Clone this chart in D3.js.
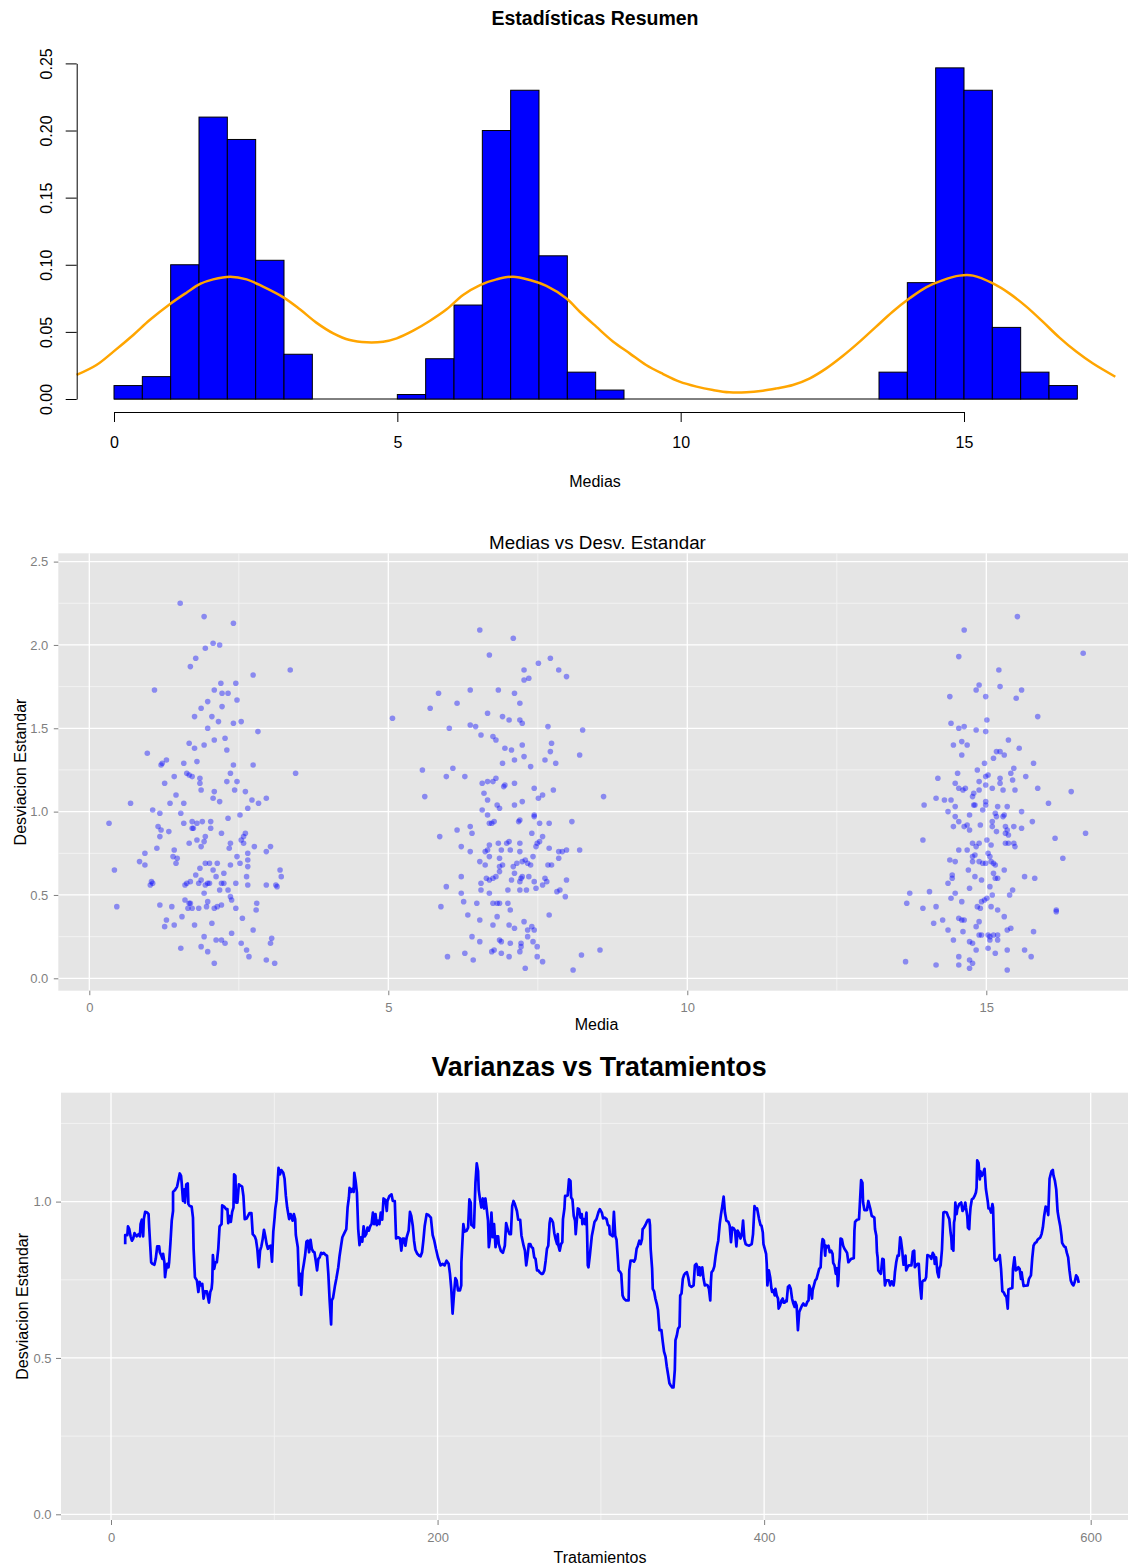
<!DOCTYPE html>
<html>
<head>
<meta charset="utf-8">
<script src="https://cdn.jsdelivr.net/npm/d3@7"></script>
<style>
  body { margin: 0; background: #ffffff; }
  svg { display: block; }
  text { font-family: "Liberation Sans", Arial, Helvetica, sans-serif; }
</style>
</head>
<body>
<svg id="fig" width="1128" height="1567"></svg>
<script>
// ---------- Histogram of the means (counts per 0.5-wide bin) ----------
const histBreaks = [0,0.5,1,1.5,2,2.5,3,3.5,4,4.5,5,5.5,6,6.5,7,7.5,8,8.5,9,9.5,10,10.5,11,11.5,12,12.5,13,13.5,14,14.5,15,15.5,16,16.5,17];
const histCounts = [3,5,30,63,58,31,10,0,0,0,1,9,21,60,69,32,6,2,0,0,0,0,0,0,0,0,0,6,26,74,69,16,6,3];
const histYTicks = [0,0.05,0.10,0.15,0.20,0.25];
const histXTicks = [0,5,10,15];

// Smoothed density drawn over the histogram
const densityCurve = [[-0.66,0.0179],[-0.31,0.0253],[-0.01,0.0353],[0.34,0.0477],[0.63,0.0588],[0.99,0.0708],[1.28,0.0792],[1.52,0.0857],[1.75,0.0891],[2.05,0.0911],[2.34,0.0891],[2.63,0.0837],[2.99,0.0757],[3.28,0.0668],[3.57,0.0569],[3.87,0.0489],[4.16,0.0439],[4.46,0.0422],[4.75,0.0427],[4.99,0.0452],[5.28,0.0509],[5.57,0.0581],[5.87,0.0668],[6.16,0.0775],[6.46,0.0849],[6.75,0.0891],[7.04,0.0911],[7.34,0.0886],[7.63,0.0842],[7.98,0.0750],[8.22,0.0650],[8.51,0.0539],[8.81,0.0427],[9.10,0.0340],[9.39,0.0253],[9.69,0.0186],[9.98,0.0129],[10.28,0.0092],[10.57,0.0067],[10.86,0.0050],[11.16,0.0050],[11.45,0.0062],[11.69,0.0079],[11.98,0.0104],[12.28,0.0154],[12.57,0.0228],[12.86,0.0320],[13.16,0.0427],[13.45,0.0539],[13.74,0.0650],[14.04,0.0750],[14.33,0.0832],[14.63,0.0886],[14.92,0.0919],[15.16,0.0919],[15.51,0.0861],[15.80,0.0787],[16.10,0.0688],[16.39,0.0576],[16.68,0.0459],[16.98,0.0353],[17.27,0.0266],[17.67,0.0166]];

// ---------- Mean vs standard deviation, one group per treatment level ----------
const grupo1 = [[1.52,2.25],[1.92,2.17],[2.41,2.13],[2.07,2.01],[2.18,2.00],[1.94,1.98],[1.78,1.92],[1.69,1.87],[3.36,1.85],[2.74,1.82],[1.09,1.73],[2.45,1.77],[2.20,1.77],[2.09,1.73],[2.22,1.71],[2.32,1.71],[2.47,1.67],[1.98,1.66],[1.87,1.62],[2.22,1.63],[1.76,1.57],[2.05,1.57],[2.16,1.54],[2.54,1.54],[2.41,1.53],[1.98,1.50],[2.82,1.48],[2.09,1.43],[2.27,1.44],[1.67,1.41],[1.92,1.40],[1.76,1.38],[2.30,1.37],[0.97,1.35],[1.58,1.29],[1.80,1.30],[1.29,1.31],[1.22,1.29],[1.20,1.28],[2.41,1.28],[2.74,1.28],[3.45,1.23],[1.63,1.23],[1.67,1.22],[1.72,1.21],[2.36,1.23],[1.85,1.20],[1.42,1.21],[1.85,1.17],[2.30,1.18],[2.47,1.18],[1.26,1.17],[2.43,1.13],[1.87,1.13],[2.09,1.12],[2.61,1.12],[1.45,1.10],[2.07,1.08],[2.18,1.06],[2.72,1.07],[2.96,1.08],[0.69,1.05],[1.35,1.05],[1.58,1.05],[2.83,1.05],[2.65,1.02],[1.06,1.01],[1.18,0.99],[1.53,0.99],[2.52,0.98],[2.32,0.96],[0.33,0.93],[1.58,0.93],[1.72,0.94],[1.80,0.93],[1.89,0.94],[2.03,0.94],[1.15,0.91],[1.74,0.90],[1.72,0.90],[2.03,0.90],[1.20,0.89],[1.33,0.88],[2.21,0.87],[2.61,0.87],[1.94,0.85],[1.92,0.82],[1.67,0.81],[1.80,0.83],[2.58,0.85],[1.18,0.85],[2.54,0.83],[2.58,0.81],[2.36,0.81],[1.87,0.79],[1.13,0.78],[2.34,0.78],[2.76,0.79],[3.03,0.79],[1.42,0.77],[2.96,0.76],[0.93,0.75],[2.65,0.75],[0.84,0.70],[1.40,0.73],[1.47,0.72],[2.47,0.73],[2.52,0.69],[2.65,0.71],[0.93,0.68],[1.45,0.69],[2.14,0.69],[2.01,0.69],[1.94,0.69],[1.85,0.66],[2.36,0.68],[2.65,0.67],[2.07,0.65],[1.78,0.62],[2.25,0.63],[3.19,0.65],[3.21,0.61],[2.63,0.61],[2.12,0.61],[1.04,0.58],[1.06,0.57],[1.02,0.56],[1.69,0.58],[1.60,0.56],[1.63,0.57],[1.83,0.57],[1.87,0.59],[1.94,0.56],[2.01,0.57],[1.98,0.57],[2.21,0.57],[2.25,0.57],[2.45,0.57],[2.65,0.56],[2.96,0.56],[3.12,0.56],[3.14,0.55],[1.92,0.51],[2.18,0.53],[2.32,0.53],[2.36,0.49],[2.38,0.47],[1.60,0.47],[1.69,0.45],[1.67,0.45],[1.98,0.46],[2.80,0.45],[1.18,0.44],[1.38,0.43],[1.65,0.42],[1.72,0.42],[1.83,0.42],[1.96,0.43],[2.09,0.42],[2.14,0.43],[2.21,0.44],[2.45,0.42],[2.79,0.41],[0.46,0.43],[1.55,0.37],[1.29,0.35],[2.56,0.36],[1.42,0.32],[1.26,0.31],[1.76,0.32],[2.05,0.33],[2.74,0.29],[2.38,0.27],[1.92,0.25],[3.05,0.24],[3.03,0.21],[2.54,0.21],[2.27,0.21],[2.12,0.23],[2.21,0.23],[1.53,0.18],[1.87,0.19],[1.98,0.16],[2.63,0.17],[2.67,0.13],[2.96,0.11],[2.09,0.09],[3.10,0.09],[0.42,0.65]];
const grupo2 = [[6.53,2.09],[7.09,2.04],[6.69,1.94],[7.51,1.89],[7.71,1.92],[7.27,1.85],[7.85,1.85],[7.98,1.81],[7.27,1.79],[7.35,1.80],[5.84,1.71],[6.37,1.73],[6.84,1.73],[7.11,1.71],[6.15,1.65],[7.20,1.65],[5.70,1.62],[6.66,1.59],[6.91,1.57],[7.02,1.55],[7.20,1.55],[7.24,1.53],[5.07,1.56],[7.67,1.51],[6.02,1.50],[6.37,1.52],[6.46,1.51],[8.25,1.49],[6.55,1.46],[6.75,1.45],[6.80,1.43],[6.95,1.38],[7.06,1.37],[7.24,1.40],[7.73,1.41],[7.71,1.36],[7.27,1.33],[8.20,1.34],[7.11,1.31],[6.91,1.29],[7.62,1.31],[7.80,1.29],[7.38,1.27],[5.57,1.25],[6.08,1.26],[5.97,1.21],[6.28,1.21],[6.57,1.17],[6.66,1.18],[6.75,1.18],[6.80,1.20],[6.93,1.15],[6.95,1.16],[7.11,1.17],[7.44,1.14],[7.76,1.13],[5.61,1.09],[6.60,1.11],[7.58,1.10],[7.51,1.08],[6.66,1.07],[7.24,1.06],[8.60,1.09],[6.82,1.04],[6.86,1.02],[7.11,1.04],[6.57,1.01],[6.66,0.98],[7.44,0.98],[7.44,0.97],[7.18,0.94],[7.20,0.95],[6.77,0.94],[6.73,0.93],[6.69,0.93],[7.53,0.93],[7.69,0.93],[8.07,0.94],[6.37,0.91],[6.15,0.89],[6.40,0.87],[7.40,0.87],[7.58,0.85],[5.86,0.85],[6.22,0.79],[6.37,0.76],[6.62,0.76],[6.66,0.77],[6.69,0.80],[6.84,0.81],[6.98,0.81],[7.02,0.82],[6.89,0.77],[7.04,0.77],[7.20,0.81],[7.20,0.76],[7.47,0.79],[7.49,0.81],[7.53,0.82],[7.69,0.78],[7.85,0.76],[7.91,0.76],[7.98,0.77],[8.20,0.77],[6.53,0.70],[6.62,0.68],[6.69,0.73],[6.86,0.72],[6.86,0.67],[6.91,0.68],[7.09,0.67],[7.15,0.69],[7.24,0.70],[7.29,0.71],[7.33,0.69],[7.38,0.68],[7.42,0.73],[7.67,0.68],[7.73,0.68],[7.85,0.72],[6.22,0.61],[6.55,0.57],[6.64,0.60],[6.69,0.59],[6.75,0.60],[6.80,0.61],[6.86,0.64],[7.06,0.59],[7.11,0.63],[7.22,0.60],[7.24,0.61],[7.20,0.58],[7.35,0.61],[7.44,0.58],[7.62,0.60],[7.65,0.58],[7.98,0.59],[5.97,0.55],[6.22,0.51],[6.55,0.53],[6.69,0.51],[7.00,0.53],[7.20,0.53],[7.31,0.53],[7.47,0.54],[7.58,0.56],[7.82,0.52],[7.87,0.53],[7.96,0.49],[6.26,0.46],[5.88,0.43],[6.48,0.45],[6.75,0.45],[6.82,0.45],[6.86,0.45],[7.00,0.45],[7.04,0.41],[6.33,0.38],[6.53,0.35],[6.82,0.37],[7.27,0.34],[7.69,0.38],[6.75,0.32],[7.02,0.32],[7.11,0.30],[7.33,0.29],[7.40,0.31],[7.44,0.29],[6.40,0.25],[6.53,0.22],[6.86,0.23],[6.89,0.22],[7.04,0.21],[7.33,0.25],[7.42,0.22],[7.49,0.19],[7.22,0.21],[7.22,0.19],[5.99,0.13],[6.28,0.15],[6.42,0.11],[6.73,0.16],[6.77,0.17],[6.89,0.15],[7.02,0.13],[7.20,0.16],[7.49,0.13],[7.58,0.10],[7.29,0.06],[8.09,0.05],[8.23,0.14],[8.54,0.17]];
const grupo3 = [[15.52,2.17],[14.63,2.09],[16.62,1.95],[14.54,1.93],[15.21,1.85],[14.88,1.76],[15.23,1.75],[14.83,1.73],[15.59,1.73],[14.39,1.69],[14.99,1.69],[15.50,1.68],[15.86,1.57],[15.01,1.55],[14.41,1.53],[14.54,1.50],[14.63,1.51],[14.83,1.49],[14.99,1.48],[15.37,1.43],[14.59,1.42],[14.45,1.40],[14.68,1.40],[15.55,1.38],[14.59,1.34],[15.17,1.36],[15.23,1.36],[15.30,1.34],[15.12,1.32],[14.97,1.29],[15.79,1.29],[15.46,1.26],[14.85,1.25],[14.52,1.23],[15.41,1.23],[15.03,1.22],[14.99,1.21],[15.66,1.21],[14.19,1.20],[15.23,1.20],[15.44,1.19],[14.88,1.18],[15.23,1.17],[14.48,1.17],[14.99,1.16],[14.54,1.14],[14.61,1.13],[14.65,1.14],[15.10,1.14],[15.28,1.13],[15.48,1.13],[15.86,1.14],[16.42,1.12],[14.88,1.13],[14.79,1.11],[14.77,1.09],[14.16,1.08],[14.30,1.07],[14.41,1.07],[16.04,1.05],[13.96,1.04],[14.48,1.03],[14.79,1.04],[14.81,1.04],[14.99,1.06],[14.99,1.04],[15.19,1.03],[15.35,1.03],[14.36,1.00],[14.94,1.01],[15.15,0.99],[15.17,0.97],[15.28,0.97],[15.30,0.98],[15.59,1.00],[14.72,0.98],[14.48,0.97],[14.54,0.94],[15.77,0.94],[14.45,0.91],[14.63,0.91],[14.68,0.92],[14.72,0.89],[14.90,0.92],[15.10,0.94],[15.10,0.91],[15.17,0.88],[15.32,0.91],[15.35,0.89],[15.32,0.87],[15.37,0.86],[15.46,0.91],[15.59,0.90],[16.66,0.87],[16.15,0.84],[13.94,0.83],[15.01,0.83],[14.77,0.81],[14.88,0.81],[14.83,0.79],[15.08,0.80],[15.32,0.81],[15.37,0.81],[15.46,0.81],[15.48,0.79],[14.54,0.77],[14.68,0.77],[14.77,0.73],[14.81,0.74],[15.03,0.75],[15.06,0.73],[16.28,0.72],[14.39,0.71],[14.48,0.70],[14.77,0.70],[14.88,0.70],[14.94,0.69],[14.99,0.69],[15.08,0.70],[15.12,0.69],[15.15,0.68],[14.70,0.65],[15.30,0.65],[14.43,0.62],[14.43,0.60],[14.81,0.61],[14.92,0.59],[15.12,0.63],[15.15,0.60],[15.19,0.60],[15.64,0.61],[15.81,0.60],[14.36,0.57],[14.72,0.54],[15.06,0.55],[13.72,0.51],[14.05,0.52],[14.48,0.51],[15.44,0.53],[15.39,0.50],[15.10,0.50],[13.67,0.45],[14.41,0.48],[14.59,0.46],[14.92,0.46],[14.97,0.47],[15.01,0.48],[13.94,0.42],[14.16,0.43],[14.85,0.43],[14.90,0.42],[15.08,0.43],[15.19,0.41],[15.30,0.37],[16.17,0.41],[16.17,0.40],[14.27,0.35],[14.54,0.36],[14.59,0.35],[14.63,0.35],[14.88,0.34],[14.12,0.33],[14.83,0.31],[14.36,0.29],[14.61,0.28],[15.35,0.29],[15.41,0.30],[15.79,0.28],[14.88,0.26],[14.92,0.26],[15.03,0.26],[15.06,0.25],[15.12,0.26],[15.19,0.26],[14.45,0.23],[14.72,0.22],[14.77,0.21],[15.06,0.23],[15.19,0.23],[14.83,0.17],[15.03,0.18],[15.35,0.17],[15.64,0.17],[15.15,0.15],[14.54,0.13],[15.75,0.13],[13.65,0.10],[14.16,0.08],[14.54,0.08],[14.72,0.11],[14.77,0.09],[14.72,0.06],[15.35,0.05]];
const scatterXTicks = [0,5,10,15];
const scatterYTicks = [0,0.5,1.0,1.5,2.0,2.5];

// ---------- Moving standard deviation along the treatments ----------
const desvMovil = [[8.7,0.864],[8.7,0.893],[10.0,0.893],[10.4,0.921],[11.2,0.912],[12.0,0.889],[12.8,0.875],[13.6,0.882],[14.4,0.899],[15.7,0.889],[16.9,0.896],[17.7,0.889],[18.1,0.928],[18.9,0.942],[19.3,0.912],[19.7,0.889],[20.1,0.944],[20.9,0.967],[22.2,0.965],[23.0,0.960],[23.4,0.917],[24.2,0.843],[24.6,0.806],[25.4,0.801],[26.6,0.798],[27.4,0.817],[28.3,0.857],[29.5,0.857],[29.9,0.838],[30.7,0.829],[31.5,0.817],[31.9,0.833],[32.7,0.806],[33.1,0.758],[33.5,0.776],[34.4,0.801],[35.2,0.790],[35.6,0.806],[36.4,0.868],[37.2,0.939],[38.0,0.970],[38.0,1.031],[39.2,1.037],[40.5,1.048],[41.3,1.069],[42.1,1.090],[42.9,1.082],[43.3,1.060],[44.1,1.002],[44.9,1.039],[45.3,0.997],[46.1,1.055],[47.0,1.058],[47.4,0.992],[48.2,0.986],[49.4,0.984],[50.2,0.949],[50.6,0.849],[51.4,0.758],[52.6,0.748],[53.5,0.711],[54.3,0.743],[55.1,0.732],[55.9,0.737],[56.7,0.690],[57.5,0.713],[58.7,0.713],[60.0,0.677],[60.8,0.711],[61.6,0.721],[62.0,0.743],[62.4,0.829],[63.2,0.785],[64.0,0.806],[64.8,0.806],[65.7,0.849],[66.5,0.921],[67.7,0.928],[68.1,0.988],[69.3,0.984],[70.5,0.976],[71.3,0.976],[71.8,0.931],[72.6,0.954],[73.4,0.935],[74.2,0.967],[75.0,0.981],[75.4,1.087],[76.2,1.082],[76.6,0.997],[77.4,0.997],[78.3,1.055],[79.1,1.052],[80.3,1.048],[81.1,1.018],[81.9,0.944],[83.1,0.946],[84.8,0.963],[86.0,0.963],[86.8,0.896],[88.0,0.889],[88.8,0.878],[89.6,0.849],[90.5,0.790],[91.3,0.843],[92.1,0.857],[92.9,0.880],[93.7,0.910],[94.5,0.889],[95.3,0.864],[96.1,0.849],[97.0,0.857],[97.8,0.859],[98.6,0.808],[99.4,0.904],[100.2,0.949],[100.6,0.976],[101.4,1.005],[102.6,1.108],[103.5,1.087],[104.3,1.101],[105.5,1.092],[106.3,1.073],[107.1,1.018],[107.9,0.981],[109.1,0.944],[110.0,0.960],[111.2,0.939],[112.0,0.960],[112.8,0.944],[113.2,0.893],[114.4,0.854],[115.2,0.732],[116.1,0.769],[116.5,0.702],[117.3,0.776],[118.1,0.801],[118.9,0.829],[119.7,0.872],[120.5,0.875],[121.3,0.838],[122.2,0.878],[123.0,0.849],[123.8,0.840],[124.6,0.838],[125.4,0.811],[126.2,0.780],[127.0,0.817],[127.8,0.822],[128.7,0.836],[129.5,0.833],[130.3,0.836],[131.5,0.829],[132.3,0.827],[133.1,0.769],[133.9,0.684],[134.8,0.607],[135.2,0.684],[136.0,0.692],[137.2,0.732],[138.0,0.753],[139.2,0.790],[140.0,0.827],[140.9,0.859],[141.7,0.886],[142.9,0.899],[144.1,0.912],[144.9,0.981],[145.7,1.013],[146.1,1.044],[147.0,1.031],[147.8,1.041],[148.6,1.031],[149.0,1.092],[149.8,1.066],[150.6,1.029],[151.4,0.912],[152.2,0.861],[153.1,0.886],[153.9,0.872],[154.7,0.921],[155.5,0.889],[156.3,0.896],[157.1,0.917],[157.9,0.907],[158.7,0.921],[159.6,0.928],[160.4,0.965],[161.2,0.928],[162.0,0.960],[162.8,0.925],[163.6,0.939],[164.4,0.928],[165.2,0.965],[166.1,0.942],[166.9,1.010],[168.1,1.005],[168.9,0.970],[169.3,1.002],[170.5,1.018],[171.8,1.023],[172.6,1.002],[173.8,1.002],[174.6,0.882],[175.8,0.886],[177.0,0.882],[177.8,0.843],[178.7,0.882],[179.5,0.882],[180.3,0.859],[181.1,0.886],[182.3,0.907],[183.1,0.967],[183.9,0.954],[184.8,0.923],[185.6,0.875],[186.4,0.846],[187.6,0.833],[188.8,0.827],[189.6,0.825],[190.5,0.838],[191.3,0.875],[192.1,0.921],[193.3,0.960],[194.5,0.957],[195.9,0.949],[197.0,0.893],[198.0,0.875],[199.0,0.849],[200.2,0.822],[201.8,0.796],[203.1,0.801],[204.3,0.796],[205.5,0.811],[206.8,0.801],[207.6,0.769],[208.4,0.721],[209.2,0.642],[210.0,0.700],[210.9,0.755],[211.7,0.748],[212.5,0.716],[213.7,0.716],[214.5,0.732],[214.6,0.806],[215.4,0.889],[215.8,0.928],[216.6,0.904],[217.8,0.907],[218.7,0.917],[219.5,1.007],[220.3,0.997],[220.7,0.925],[221.5,0.923],[222.3,0.917],[223.2,1.060],[224.0,1.122],[224.8,1.097],[225.2,1.037],[226.0,1.007],[226.8,0.981],[227.7,1.010],[228.5,0.978],[229.3,1.010],[230.1,0.976],[230.9,0.939],[231.4,0.854],[232.2,0.886],[233.0,0.965],[233.8,0.886],[234.6,0.928],[235.5,0.854],[236.3,0.889],[237.1,0.889],[237.5,0.864],[238.7,0.843],[240.0,0.836],[241.2,0.859],[242.0,0.931],[243.2,0.907],[244.1,0.896],[244.9,0.896],[245.7,0.986],[246.5,1.002],[247.3,0.992],[248.6,0.970],[249.4,0.942],[250.6,0.942],[251.4,0.891],[252.7,0.859],[253.5,0.843],[254.3,0.796],[255.1,0.827],[255.9,0.864],[256.8,0.864],[257.6,0.854],[258.4,0.851],[259.2,0.822],[260.0,0.817],[260.9,0.780],[261.7,0.780],[262.5,0.774],[263.7,0.769],[264.5,0.769],[265.4,0.780],[266.2,0.811],[267.0,0.849],[267.8,0.859],[268.6,0.931],[269.1,0.946],[269.9,0.942],[270.7,0.933],[271.5,0.899],[272.3,0.880],[273.2,0.864],[273.6,0.896],[274.0,0.859],[274.8,0.843],[275.6,0.864],[276.4,0.870],[276.8,0.944],[277.7,0.978],[278.1,1.018],[278.9,1.018],[279.7,1.020],[280.5,1.071],[281.4,1.066],[281.8,1.013],[282.6,1.007],[283.4,0.954],[284.2,0.939],[284.6,0.896],[285.5,0.954],[285.9,0.978],[286.7,0.976],[287.5,0.949],[288.3,0.960],[288.7,0.928],[289.5,0.944],[290.4,0.928],[291.2,0.965],[291.6,0.893],[292.0,0.796],[292.4,0.790],[293.2,0.825],[294.5,0.891],[295.3,0.912],[296.1,0.935],[297.3,0.944],[298.6,0.967],[299.4,0.976],[300.6,0.965],[301.4,0.946],[302.3,0.949],[303.5,0.944],[304.3,0.925],[305.1,0.923],[305.5,0.896],[306.3,0.893],[307.2,0.889],[308.0,0.967],[308.8,0.891],[309.6,0.878],[310.0,0.849],[310.9,0.780],[311.7,0.776],[312.5,0.769],[313.3,0.700],[314.1,0.690],[315.4,0.684],[317.0,0.684],[317.4,0.780],[318.2,0.811],[319.5,0.811],[320.3,0.808],[321.1,0.817],[321.9,0.849],[322.7,0.859],[323.6,0.875],[324.4,0.864],[325.2,0.880],[325.6,0.912],[326.4,0.917],[327.3,0.925],[328.1,0.935],[328.9,0.942],[329.7,0.942],[330.1,0.925],[330.5,0.849],[331.4,0.785],[331.8,0.721],[332.6,0.713],[333.4,0.690],[334.2,0.674],[335.0,0.653],[335.9,0.589],[337.1,0.589],[337.9,0.552],[338.7,0.520],[339.6,0.504],[340.4,0.472],[341.2,0.446],[342.0,0.419],[342.8,0.412],[343.7,0.406],[344.5,0.406],[345.3,0.462],[345.7,0.557],[346.5,0.571],[347.3,0.594],[348.2,0.600],[348.6,0.700],[349.4,0.706],[350.2,0.753],[351.0,0.766],[351.9,0.772],[352.7,0.774],[353.5,0.758],[354.3,0.732],[355.5,0.727],[356.8,0.732],[357.6,0.796],[358.4,0.801],[359.2,0.790],[359.6,0.766],[360.5,0.790],[360.9,0.764],[362.1,0.790],[362.9,0.753],[363.7,0.732],[364.6,0.734],[365.4,0.732],[366.2,0.721],[367.0,0.684],[367.4,0.743],[367.8,0.774],[368.7,0.780],[369.5,0.793],[370.3,0.827],[371.1,0.854],[371.9,0.875],[372.8,0.928],[373.6,0.960],[374.4,0.986],[375.2,1.016],[376.0,0.965],[376.9,0.939],[378.1,0.935],[378.9,0.923],[379.7,0.870],[380.5,0.917],[381.4,0.914],[382.2,0.907],[383.0,0.857],[383.8,0.907],[384.6,0.899],[385.5,0.882],[386.3,0.893],[387.1,0.939],[387.9,0.880],[388.7,0.864],[389.6,0.861],[390.8,0.859],[392.4,0.864],[393.2,0.896],[394.1,0.986],[394.9,0.976],[395.7,0.978],[396.9,0.944],[397.8,0.925],[398.4,0.923],[399.2,0.901],[399.6,0.864],[400.4,0.849],[401.2,0.833],[401.6,0.801],[402.0,0.732],[402.9,0.780],[403.7,0.758],[404.5,0.721],[404.9,0.711],[405.7,0.716],[406.5,0.700],[406.9,0.721],[407.7,0.700],[408.5,0.690],[408.9,0.658],[409.8,0.668],[410.6,0.684],[411.4,0.690],[411.8,0.677],[412.6,0.677],[413.4,0.684],[413.8,0.681],[414.6,0.727],[415.5,0.732],[416.3,0.721],[417.1,0.690],[417.9,0.674],[418.7,0.663],[419.1,0.679],[419.9,0.668],[420.7,0.589],[421.5,0.647],[422.4,0.658],[423.2,0.668],[424.0,0.674],[424.8,0.668],[425.6,0.668],[426.4,0.679],[427.2,0.684],[427.6,0.732],[428.5,0.719],[429.3,0.690],[429.7,0.716],[430.5,0.732],[431.3,0.748],[432.1,0.753],[432.9,0.769],[433.7,0.785],[434.6,0.790],[435.0,0.833],[435.4,0.864],[435.8,0.880],[436.6,0.875],[437.4,0.827],[437.8,0.859],[438.6,0.854],[439.4,0.859],[440.2,0.838],[441.1,0.843],[441.9,0.833],[442.3,0.804],[443.1,0.796],[443.9,0.769],[444.7,0.787],[445.1,0.730],[445.5,0.748],[445.9,0.801],[446.3,0.822],[446.8,0.882],[447.6,0.880],[448.4,0.859],[449.2,0.849],[450.0,0.843],[450.8,0.836],[451.6,0.806],[452.4,0.811],[453.3,0.817],[454.9,0.819],[455.3,0.907],[455.7,0.935],[456.9,0.942],[458.1,0.944],[458.5,0.981],[459.4,1.069],[460.2,1.060],[460.6,0.997],[461.4,0.973],[462.2,0.973],[463.0,0.973],[463.8,1.002],[464.6,0.986],[465.0,0.978],[465.9,0.954],[466.7,0.952],[467.5,0.949],[467.9,0.912],[468.7,0.891],[469.1,0.838],[469.5,0.822],[469.9,0.780],[470.7,0.774],[471.5,0.769],[472.4,0.817],[473.2,0.815],[473.6,0.766],[474.0,0.732],[474.8,0.748],[476.4,0.748],[477.2,0.732],[478.1,0.745],[478.5,0.743],[479.3,0.732],[479.7,0.748],[480.1,0.774],[480.9,0.806],[481.7,0.827],[482.5,0.827],[483.3,0.886],[483.7,0.880],[484.6,0.843],[485.0,0.817],[485.4,0.798],[486.2,0.806],[486.6,0.827],[487.0,0.780],[487.8,0.790],[488.6,0.796],[490.2,0.796],[491.1,0.840],[491.9,0.843],[492.3,0.790],[493.1,0.796],[493.9,0.801],[494.7,0.801],[495.5,0.732],[496.3,0.690],[496.8,0.743],[497.6,0.748],[498.4,0.748],[499.2,0.758],[500.0,0.829],[500.8,0.827],[501.6,0.825],[502.4,0.817],[503.3,0.836],[504.1,0.829],[504.5,0.801],[505.3,0.822],[506.1,0.774],[506.9,0.758],[507.3,0.785],[508.1,0.796],[508.9,0.846],[509.8,0.965],[510.6,0.967],[511.8,0.965],[512.6,0.954],[513.4,0.944],[514.2,0.901],[514.6,0.886],[515.0,0.849],[515.5,0.878],[515.9,0.843],[516.3,0.933],[516.7,0.944],[517.1,0.997],[517.9,0.960],[518.3,0.976],[519.5,0.992],[520.7,0.997],[521.5,0.970],[522.4,0.978],[523.2,0.997],[523.6,0.981],[524.4,0.954],[524.8,0.917],[525.6,0.912],[526.0,0.954],[526.4,0.981],[527.2,1.007],[528.1,1.010],[528.9,1.018],[529.7,1.029],[530.1,1.044],[530.5,1.132],[531.3,1.124],[532.1,1.071],[532.5,1.097],[533.3,1.082],[534.2,1.092],[535.0,1.105],[535.8,1.041],[537.0,0.999],[537.4,0.978],[538.2,0.978],[539.0,0.965],[539.8,0.992],[540.2,0.981],[540.7,0.886],[541.1,0.817],[541.9,0.811],[543.5,0.817],[544.3,0.829],[545.1,0.785],[545.9,0.713],[546.8,0.709],[547.6,0.700],[548.4,0.695],[549.2,0.658],[549.6,0.719],[550.4,0.721],[552.0,0.724],[552.4,0.785],[553.3,0.822],[554.1,0.780],[554.9,0.783],[555.7,0.790],[556.5,0.785],[557.3,0.753],[557.7,0.774],[558.1,0.758],[558.9,0.730],[561.4,0.732],[562.2,0.753],[563.4,0.764],[564.2,0.819],[565.0,0.859],[565.9,0.868],[566.7,0.870],[567.5,0.878],[568.3,0.882],[569.1,0.885],[569.9,0.896],[570.7,0.917],[571.5,0.954],[572.4,0.984],[573.2,0.981],[574.0,0.957],[574.8,1.073],[575.6,1.090],[576.0,1.097],[576.8,1.101],[577.2,1.084],[578.1,1.066],[578.9,1.039],[579.7,0.970],[580.5,0.944],[581.3,0.923],[582.1,0.891],[582.5,0.868],[583.7,0.857],[584.6,0.854],[585.4,0.836],[586.2,0.822],[587.0,0.780],[587.8,0.748],[588.6,0.737],[589.4,0.732],[590.2,0.743],[591.1,0.764],[591.9,0.758],[592.7,0.740]];
const lineXTicks = [0,200,400,600];
const lineYTicks = [0,0.5,1.0];

const svg = d3.select("#fig");
const tickGrey = "#7f7f7f";

// =====================================================================
// Panel 1: base-graphics style histogram with density overlay
// =====================================================================
const hx = d3.scaleLinear().domain([0, 15]).range([114, 964]);
const hy = d3.scaleLinear().domain([0, 0.25]).range([399, 63.4]);
const totalN = d3.sum(histCounts);
const bins = histCounts.map((c, i) => ({
  x0: histBreaks[i], x1: histBreaks[i + 1],
  density: c / (totalN * (histBreaks[i + 1] - histBreaks[i]))
}));

const p1 = svg.append("g");
// baseline under empty bins
p1.append("line")
  .attr("x1", hx(histBreaks[0])).attr("x2", hx(histBreaks[histBreaks.length - 1]))
  .attr("y1", hy(0)).attr("y2", hy(0))
  .attr("stroke", "#000").attr("stroke-width", 1);
p1.selectAll("rect.bar").data(bins.filter(b => b.density > 0)).join("rect")
  .attr("class", "bar")
  .attr("x", d => hx(d.x0)).attr("width", d => hx(d.x1) - hx(d.x0))
  .attr("y", d => hy(d.density)).attr("height", d => hy(0) - hy(d.density))
  .attr("fill", "#0000ff").attr("stroke", "#000").attr("stroke-width", 1);

p1.append("path").datum(densityCurve)
  .attr("d", d3.line().x(d => hx(d[0])).y(d => hy(d[1])).curve(d3.curveCatmullRom))
  .attr("fill", "none").attr("stroke", "#ffa500").attr("stroke-width", 2.5);

const hYAxis = p1.append("g").attr("transform", "translate(76.7,0)")
  .call(d3.axisLeft(hy).tickValues(histYTicks).tickFormat(d3.format(".2f")).tickSize(11).tickSizeOuter(0));
hYAxis.selectAll(".tick text")
  .attr("transform", "rotate(-90)").attr("x", 0).attr("y", -24.5).attr("dy", 0)
  .attr("text-anchor", "middle");
const hXAxis = p1.append("g").attr("transform", "translate(0,412)")
  .call(d3.axisBottom(hx).tickValues(histXTicks).tickFormat(d3.format("d")).tickSize(10).tickSizeOuter(0).tickPadding(14.5));
[hYAxis, hXAxis].forEach(a => {
  a.selectAll("text").attr("font-size", 16).attr("fill", "#000").attr("font-family", "Liberation Sans, Arial, sans-serif");
  a.selectAll("line,path").attr("stroke", "#000").attr("stroke-width", 1);
});

p1.append("text").attr("x", 595).attr("y", 25).attr("text-anchor", "middle")
  .attr("font-size", 19.5).attr("font-weight", "bold").text("Estadísticas Resumen");
p1.append("text").attr("x", 595).attr("y", 487).attr("text-anchor", "middle")
  .attr("font-size", 16).text("Medias");

// =====================================================================
// Shared helper for the grey-panel plots
// =====================================================================
function greyPanel(g, x, y, box, xMajor, xMinor, yMajor, yMinor) {
  g.append("rect").attr("x", box.l).attr("y", box.t)
    .attr("width", box.r - box.l).attr("height", box.b - box.t).attr("fill", "#e5e5e5");
  const grid = g.append("g");
  grid.selectAll("line.vmin").data(xMinor).join("line").attr("class", "vmin")
    .attr("x1", d => x(d)).attr("x2", d => x(d)).attr("y1", box.t).attr("y2", box.b)
    .attr("stroke", "#f2f2f2").attr("stroke-width", 1);
  grid.selectAll("line.hmin").data(yMinor).join("line").attr("class", "hmin")
    .attr("x1", box.l).attr("x2", box.r).attr("y1", d => y(d)).attr("y2", d => y(d))
    .attr("stroke", "#f2f2f2").attr("stroke-width", 1);
  grid.selectAll("line.vmaj").data(xMajor).join("line").attr("class", "vmaj")
    .attr("x1", d => x(d)).attr("x2", d => x(d)).attr("y1", box.t).attr("y2", box.b)
    .attr("stroke", "#ffffff").attr("stroke-width", 1.3);
  grid.selectAll("line.hmaj").data(yMajor).join("line").attr("class", "hmaj")
    .attr("x1", box.l).attr("x2", box.r).attr("y1", d => y(d)).attr("y2", d => y(d))
    .attr("stroke", "#ffffff").attr("stroke-width", 1.3);
}
function styleGreyAxis(a) {
  a.select(".domain").remove();
  a.selectAll(".tick line").attr("stroke", tickGrey).attr("stroke-width", 1);
  a.selectAll(".tick text").attr("fill", tickGrey).attr("font-size", 13)
    .attr("font-family", "Liberation Sans, Arial, sans-serif");
}

// =====================================================================
// Panel 2: mean vs standard deviation scatter
// =====================================================================
const sx = d3.scaleLinear().domain([0, 15]).range([89.3, 986.3]);
const sy = d3.scaleLinear().domain([0, 2.5]).range([978.3, 561.6]);
const sBox = { l: 58.3, r: 1128, t: 553.3, b: 990.7 };
const p2 = svg.append("g");
greyPanel(p2, sx, sy, sBox, scatterXTicks, [2.5, 7.5, 12.5],
  scatterYTicks, [0.25, 0.75, 1.25, 1.75, 2.25]);

const puntos = grupo1.concat(grupo2, grupo3);
p2.append("g").selectAll("circle").data(puntos).join("circle")
  .attr("cx", d => sx(d[0])).attr("cy", d => sy(d[1])).attr("r", 2.8)
  .attr("fill", "#0000ff").attr("fill-opacity", 0.4);

const sYAxis = p2.append("g").attr("transform", `translate(${sBox.l},0)`)
  .call(d3.axisLeft(sy).tickValues(scatterYTicks).tickFormat(d3.format(".1f")).tickSize(4.5).tickPadding(5.5));
const sXAxis = p2.append("g").attr("transform", `translate(0,${sBox.b})`)
  .call(d3.axisBottom(sx).tickValues(scatterXTicks).tickFormat(d3.format("d")).tickSize(4.5).tickPadding(7.5));
styleGreyAxis(sYAxis); styleGreyAxis(sXAxis);

p2.append("text").attr("x", 597.5).attr("y", 549).attr("text-anchor", "middle")
  .attr("font-size", 18.8).text("Medias vs Desv. Estandar");
p2.append("text").attr("x", 596.5).attr("y", 1030).attr("text-anchor", "middle")
  .attr("font-size", 16).text("Media");
p2.append("text").attr("transform", `translate(25.5,${(sBox.t + sBox.b) / 2}) rotate(-90)`)
  .attr("text-anchor", "middle").attr("font-size", 16).text("Desviacion Estandar");

// =====================================================================
// Panel 3: moving standard deviation line
// =====================================================================
const lx = d3.scaleLinear().domain([0, 600]).range([111, 1090.7]);
const ly = d3.scaleLinear().domain([0, 1]).range([1514.3, 1201.6]);
const lBox = { l: 61, r: 1128, t: 1092.7, b: 1520 };
const p3 = svg.append("g");
greyPanel(p3, lx, ly, lBox, lineXTicks, [100, 300, 500], lineYTicks, [0.25, 0.75, 1.25]);

p3.append("path").datum(desvMovil)
  .attr("d", d3.line().x(d => lx(d[0])).y(d => ly(d[1])))
  .attr("fill", "none").attr("stroke", "#0000ff").attr("stroke-width", 2.7)
  .attr("stroke-linejoin", "round");

const lYAxis = p3.append("g").attr("transform", `translate(${lBox.l},0)`)
  .call(d3.axisLeft(ly).tickValues(lineYTicks).tickFormat(d3.format(".1f")).tickSize(5).tickPadding(4.5));
const lXAxis = p3.append("g").attr("transform", `translate(0,${lBox.b})`)
  .call(d3.axisBottom(lx).tickValues(lineXTicks).tickFormat(d3.format("d")).tickSize(5).tickPadding(7.5));
styleGreyAxis(lYAxis); styleGreyAxis(lXAxis);

p3.append("text").attr("x", 599).attr("y", 1076).attr("text-anchor", "middle")
  .attr("font-size", 26.8).attr("font-weight", "bold").text("Varianzas vs Tratamientos");
p3.append("text").attr("x", 600).attr("y", 1563).attr("text-anchor", "middle")
  .attr("font-size", 16).text("Tratamientos");
p3.append("text").attr("transform", `translate(28,${(lBox.t + lBox.b) / 2}) rotate(-90)`)
  .attr("text-anchor", "middle").attr("font-size", 16).text("Desviacion Estandar");
</script>
</body>
</html>
